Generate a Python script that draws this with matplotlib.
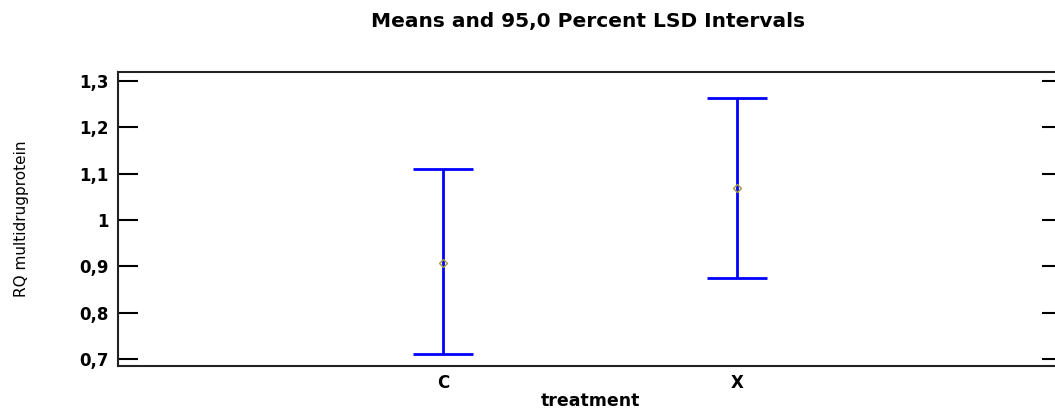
import matplotlib
matplotlib.use("Agg")
import matplotlib.pyplot as plt
from matplotlib.ticker import FuncFormatter

# LSD interval data
groups = ["C", "X"]
means = [0.908, 1.068]
lower = [0.711, 0.874]
upper = [1.109, 1.262]
yticks = [0.7, 0.8, 0.9, 1.0, 1.1, 1.2, 1.3]


def comma_fmt(v, pos):
    s = f"{v:.1f}".rstrip("0").rstrip(".")
    return s.replace(".", ",")


fig = plt.figure(figsize=(10.55, 4.12), dpi=100)
ax = fig.add_axes([118 / 1055, 1 - 366 / 412, (1062 - 118) / 1055, (366 - 72) / 412])

xpos = list(range(1, len(groups) + 1))
err_lo = [m - lo for m, lo in zip(means, lower)]
err_hi = [hi - m for m, hi in zip(means, upper)]
ax.errorbar(xpos, means, yerr=[err_lo, err_hi], fmt="none", ecolor="#0000ff",
            elinewidth=2, capsize=21.6, capthick=2)
ax.plot(xpos, means, linestyle="none", marker="D", markersize=4.5,
        markerfacecolor="none", markeredgecolor="#a89a3a", markeredgewidth=1)

ax.set_xlim(-0.105, 3.105)
ax.set_ylim(0.685, 1.319)
ax.set_xticks(xpos)
ax.set_xticklabels(groups, fontweight="bold", fontsize=12)
ax.tick_params(axis="x", length=0, pad=6)
ax.set_yticks(yticks)
ax.yaxis.set_major_formatter(FuncFormatter(comma_fmt))
ax.tick_params(axis="y", direction="in", length=14.4, width=1.5, right=True,
               labelsize=12, pad=7)
for lab in ax.get_yticklabels():
    lab.set_fontweight("bold")

for s in ax.spines.values():
    s.set_linewidth(1.5)
    s.set_color("#222222")

ax.set_xlabel("treatment", fontweight="bold", fontsize=12.5, labelpad=0)
ax.set_ylabel("RQ multidrugprotein", fontsize=11, labelpad=36)
fig.text(588 / 1055, 1 - 21 / 412, "Means and 95,0 Percent LSD Intervals",
         ha="center", va="center", fontweight="bold", fontsize=14.5)

fig.savefig("out.png", dpi=100)
